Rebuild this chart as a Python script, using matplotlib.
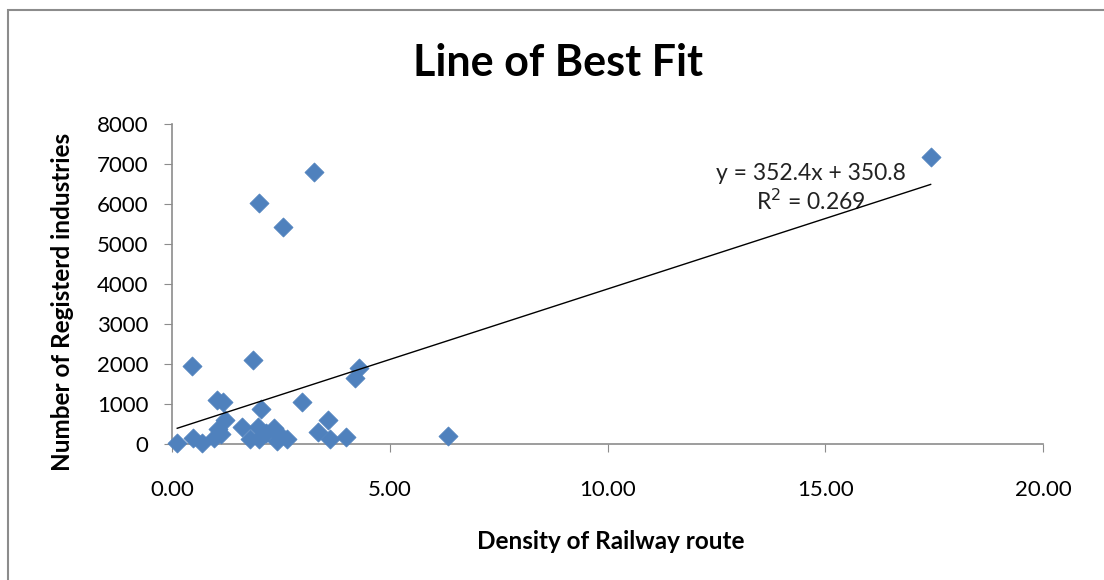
import matplotlib
matplotlib.use("Agg")
import matplotlib.pyplot as plt
from matplotlib.patches import Rectangle
import numpy as np

# Data
density = [0.12, 0.45, 0.48, 0.68, 0.97, 1.03, 1.06, 1.13, 1.18, 1.22,
           1.60, 1.78, 1.85, 1.98, 2.00, 2.00, 2.05, 2.15, 2.35, 2.40,
           2.48, 2.54, 2.63, 2.98, 3.26, 3.35, 3.58, 3.62, 4.00, 4.20,
           4.30, 6.33, 17.42]
industries = [30, 1960, 140, 20, 150, 1100, 380, 260, 1040, 600,
              420, 130, 2100, 430, 6030, 120, 880, 280, 390, 80,
              220, 5430, 120, 1050, 6790, 290, 610, 120, 170, 1640,
              1900, 190, 7170]

slope = 352.4
intercept = 350.8
r_squared = 0.269

x_ticks = [0, 5, 10, 15, 20]
x_tick_labels = ["0.00", "5.00", "10.00", "15.00", "20.00"]
y_ticks = [0, 1000, 2000, 3000, 4000, 5000, 6000, 7000, 8000]

title = "Line of Best Fit"
x_label = "Density of Railway route"
y_label = "Number of Registerd industries"

FONT = "Lato"
plt.rcParams['font.family'] = [FONT, 'DejaVu Sans']

fig = plt.figure(figsize=(11.04, 5.8), dpi=100)
fig.patch.set_facecolor("white")
# chart border
fig.patches.append(Rectangle((8 / 1104, -0.05), 1.2, 1 - 10 / 580 + 0.05,
                             transform=fig.transFigure, fill=False,
                             edgecolor="#8c8c8c", linewidth=1.5))

ax = fig.add_axes([172 / 1104, 1 - 444 / 580, (1043 - 172) / 1104, (444 - 124) / 580])
ax.set_xlim(0, 20)
ax.set_ylim(0, 8000)

ax.scatter(density, industries, marker="D", s=95, color="#4F81BD",
           edgecolors="#4F81BD", linewidths=0.5, zorder=3, clip_on=False)

xs = np.array([min(density), max(density)])
ax.plot(xs, slope * xs + intercept, color="black", linewidth=1.0, zorder=4)

ax.text(0.733, 0.845, f"y = {slope}x + {intercept}", transform=ax.transAxes,
        ha="center", va="center", fontsize=16.5, color="#222222")
ax.text(0.733, 0.76, f"R$^2$ = {r_squared}", transform=ax.transAxes,
        ha="center", va="center", fontsize=16.5, color="#222222")

for s in ["top", "right"]:
    ax.spines[s].set_visible(False)
for s in ["left", "bottom"]:
    ax.spines[s].set_color("#8c8c8c")
    ax.spines[s].set_linewidth(1.2)

ax.set_xticks(x_ticks)
ax.set_xticklabels(x_tick_labels)
ax.set_yticks(y_ticks)
ax.tick_params(axis="x", direction="out", length=6, color="#8c8c8c", pad=20,
               labelsize=16)
ax.tick_params(axis="y", direction="out", length=6, color="#8c8c8c", pad=11,
               labelsize=16)

fig.text(558 / 1104, 1 - 63 / 580, title, fontsize=31, fontweight="bold",
         ha="center", va="center")
ax.set_xlabel(x_label, fontsize=17.5, fontweight="bold")
ax.xaxis.set_label_coords((611 - 172) / 871, -(530 - 444) / 320)
ax.set_ylabel(y_label, fontsize=17.5, fontweight="bold")
ax.yaxis.set_label_coords(-(172 - 74) / 871, (444 - 302) / 320)

fig.savefig("out.png", dpi=100)
